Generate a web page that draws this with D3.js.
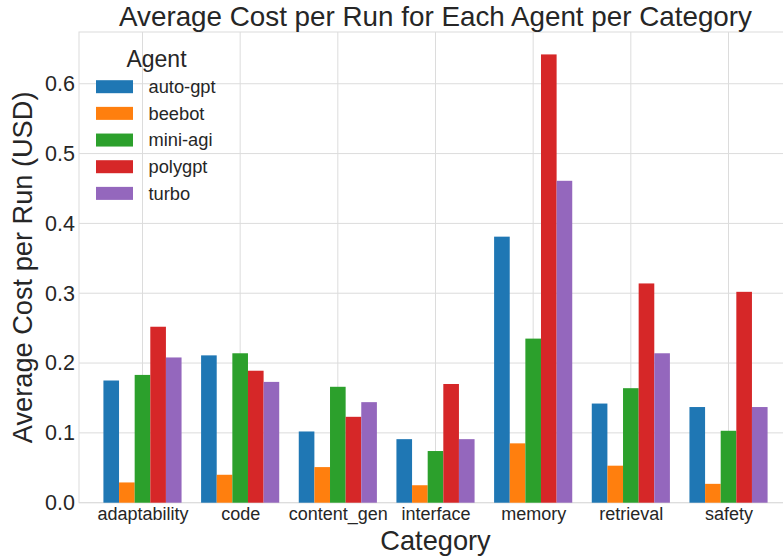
<!DOCTYPE html>
<html>
<head>
<meta charset="utf-8">
<script src="https://cdn.jsdelivr.net/npm/d3@7"></script>
<style>
  body { margin: 0; background: #fff; }
  svg { display: block; font-family: "Liberation Sans", Arial, sans-serif; }
</style>
</head>
<body>
<svg id="chart" width="783" height="558"></svg>
<script>
const categories = ["adaptability", "code", "content_gen", "interface", "memory", "retrieval", "safety"];
const agents = ["auto-gpt", "beebot", "mini-agi", "polygpt", "turbo"];
const colors = ["#1f77b4", "#ff7f0e", "#2ca02c", "#d62728", "#9467bd"];
const autoGpt = [0.175, 0.211, 0.102, 0.091, 0.381, 0.142, 0.137];
const beebot  = [0.029, 0.040, 0.051, 0.025, 0.085, 0.053, 0.027];
const miniAgi = [0.183, 0.214, 0.166, 0.074, 0.235, 0.164, 0.103];
const polygpt = [0.252, 0.189, 0.123, 0.170, 0.642, 0.314, 0.302];
const turbo   = [0.208, 0.173, 0.144, 0.091, 0.461, 0.214, 0.137];
const yTicks = [0.0, 0.1, 0.2, 0.3, 0.4, 0.5, 0.6];
const seriesValues = [autoGpt, beebot, miniAgi, polygpt, turbo];

const svg = d3.select("#chart");
const pLeft = 79, pRight = 792, pTop = 32, pBottom = 502.7;
const textColor = "#262626";
const gridColor = "#dcdcdc";

const yMax = d3.max(seriesValues.flat()) * 1.05;
const y = d3.scaleLinear().domain([0, yMax]).range([pBottom, pTop]);
const x = d3.scaleLinear().domain([-0.65, categories.length - 1 + 0.65]).range([pLeft, pRight]);
const groupW = 0.8, barW = groupW / agents.length;

// grid lines
const g = svg.append("g");
g.selectAll(".hg").data(yTicks).join("line")
  .attr("x1", pLeft).attr("x2", pRight)
  .attr("y1", d => y(d)).attr("y2", d => y(d))
  .attr("stroke", gridColor).attr("stroke-width", 1);
g.selectAll(".vg").data(categories).join("line")
  .attr("x1", (d, i) => x(i)).attr("x2", (d, i) => x(i))
  .attr("y1", pTop).attr("y2", pBottom)
  .attr("stroke", gridColor).attr("stroke-width", 1);

// spines
svg.append("rect").attr("x", pLeft).attr("y", pTop)
  .attr("width", pRight - pLeft).attr("height", pBottom - pTop)
  .attr("fill", "none").attr("stroke", gridColor).attr("stroke-width", 1);

// bars
agents.forEach((a, si) => {
  svg.append("g").selectAll("rect").data(seriesValues[si]).join("rect")
    .attr("x", (d, i) => x(i - groupW / 2 + si * barW))
    .attr("width", x(barW) - x(0))
    .attr("y", d => y(d))
    .attr("height", d => y(0) - y(d))
    .attr("fill", colors[si]);
});

// y axis tick labels
const yAxis = d3.axisLeft(y).tickValues(yTicks).tickFormat(d3.format(".1f")).tickSize(0).tickPadding(4);
const ya = svg.append("g").attr("transform", `translate(${pLeft},0)`).call(yAxis);
ya.select(".domain").remove();
ya.selectAll("text").attr("font-size", 21.5).attr("fill", textColor)
  .attr("font-family", "Liberation Sans, Arial, sans-serif");

// x axis labels
const xAxis = d3.axisBottom(x).tickValues(d3.range(categories.length)).tickFormat(i => categories[i]).tickSize(0).tickPadding(5);
const xa = svg.append("g").attr("transform", `translate(0,${pBottom})`).call(xAxis);
xa.select(".domain").remove();
xa.selectAll("text").attr("font-size", 18).attr("fill", textColor)
  .attr("font-family", "Liberation Sans, Arial, sans-serif");

// title
svg.append("text").attr("x", (pLeft + pRight) / 2).attr("y", 26)
  .attr("text-anchor", "middle").attr("font-size", 27.8).attr("fill", textColor)
  .text("Average Cost per Run for Each Agent per Category");

// axis labels
svg.append("text").attr("x", (pLeft + pRight) / 2).attr("y", 550)
  .attr("text-anchor", "middle").attr("font-size", 27.2).attr("fill", textColor)
  .text("Category");
svg.append("text")
  .attr("transform", `translate(32,${(pTop + pBottom) / 2}) rotate(-90)`)
  .attr("text-anchor", "middle").attr("font-size", 27.2).attr("fill", textColor)
  .text("Average Cost per Run (USD)");

// legend
const lg = svg.append("g");
lg.append("text").attr("x", 156.5).attr("y", 67).attr("text-anchor", "middle")
  .attr("font-size", 23).attr("fill", textColor).text("Agent");
agents.forEach((a, i) => {
  const cy = 86.7 + i * 26.67;
  lg.append("rect").attr("x", 96).attr("y", cy - 6.5).attr("width", 37).attr("height", 13)
    .attr("fill", colors[i]);
  lg.append("text").attr("x", 148.5).attr("y", cy + 6.3).attr("font-size", 18.3)
    .attr("fill", textColor).text(a);
});
</script>
</body>
</html>
